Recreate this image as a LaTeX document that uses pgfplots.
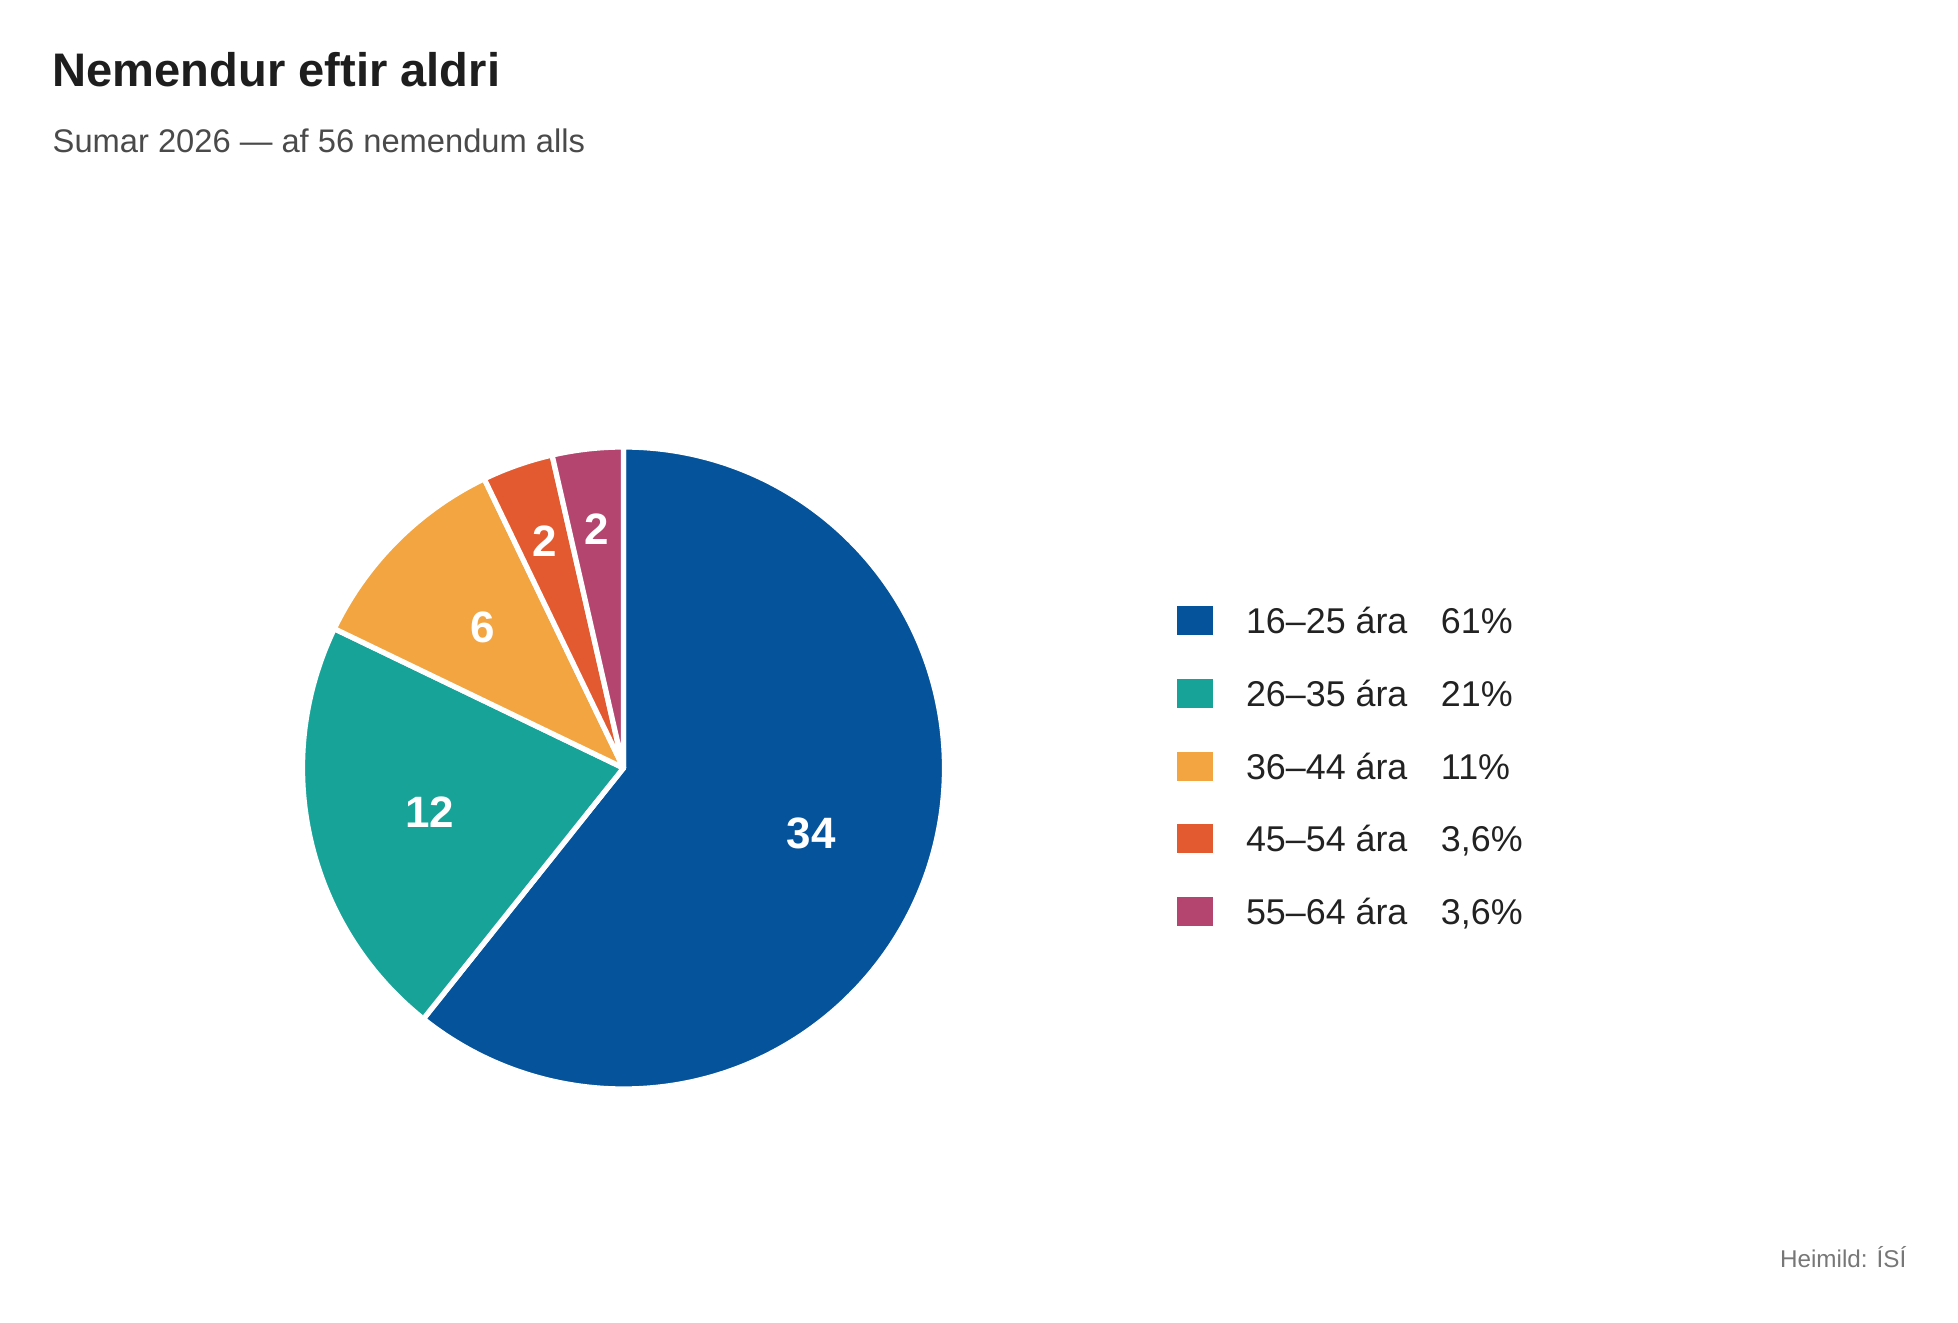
\documentclass[border=0pt]{standalone}
\usepackage{pgfplots}
\pgfplotsset{compat=1.18}
\usepackage{pgfplotstable}
\usepackage{fontspec}
\setmainfont{Liberation Sans}

\definecolor{c1}{HTML}{04539B}
\definecolor{c2}{HTML}{18A398}
\definecolor{c3}{HTML}{F2A541}
\definecolor{c4}{HTML}{E35A30}
\definecolor{c5}{HTML}{B3456E}
\definecolor{titlecol}{HTML}{1E1E1E}
\definecolor{subcol}{HTML}{4A4A4A}
\definecolor{textcol}{HTML}{222222}
\definecolor{notecol}{HTML}{777777}

% students per age group
\pgfplotstableread{
group value colour
16-25 34 c1
26-35 12 c2
36-44 6 c3
45-54 2 c4
55-64 2 c5
}\agedata

\tikzset{slicelabel/.style={text=white, inner sep=0pt,
    font=\bfseries\fontsize{12.5}{14}\selectfont}}

\begin{document}
\begin{tikzpicture}
\begin{axis}[
    scale only axis,
    width=19.58cm, height=13.22cm,
    xmin=0, xmax=1958, ymin=0, ymax=1322,
    hide axis, clip=false,
    legend style={
        at={(axis cs:1177,715.5)}, anchor=north west,
        draw=none, fill=none, inner sep=0pt, outer sep=0pt,
        row sep=0.435cm,
        font=\fontsize{10.2}{12}\selectfont,
        text=textcol,
        nodes={inner sep=0pt, text height=0.26cm, text depth=0cm},
        /tikz/every odd column/.append style={column sep=0.33cm},
    },
    legend cell align=left,
    legend image code/.code={\fill (0cm,-0.145cm) rectangle (0.36cm,0.145cm);},
]
\path (axis cs:0,0) rectangle (axis cs:1958,1322);

\def\cx{623.5}
\def\cy{554}
\def\R{3.21cm}
\pgfplotstablegetrowsof{\agedata}
\pgfmathtruncatemacro\nrows{\pgfplotsretval-1}
\def\total{0}
\pgfplotsforeachungrouped \i in {0,...,\nrows}{%
    \pgfplotstablegetelem{\i}{value}\of\agedata
    \pgfmathsetmacro\total{\total+\pgfplotsretval}}
\def\angA{90}
\pgfplotsforeachungrouped \i in {0,...,\nrows}{%
    \pgfplotstablegetelem{\i}{value}\of\agedata \let\val\pgfplotsretval
    \pgfplotstablegetelem{\i}{colour}\of\agedata \let\col\pgfplotsretval
    \pgfmathsetmacro\sweep{360*\val/\total}
    \pgfmathsetmacro\angB{\angA-\sweep}
    \pgfmathsetmacro\angM{(\angA+\angB)/2}
    \pgfmathsetmacro\lr{\sweep<20 ? 2.40 : 1.99}
    \edef\wedge{%
        \noexpand\fill[\col, draw=white, line width=1.5pt, line join=round]
            (axis cs:\cx,\cy) -- ++(\angA:\R)
            arc[start angle=\angA, end angle=\angB, radius=\R] -- cycle;
        \noexpand\path (axis cs:\cx,\cy) ++(\angM:\lr cm)
            node[slicelabel] {\val};}
    \wedge
    \let\angA\angB
}

\addlegendimage{fill=c1, draw=none}
\addlegendentry{\makebox[1.95cm][l]{16–25 ára}61\%}
\addlegendimage{fill=c2, draw=none}
\addlegendentry{\makebox[1.95cm][l]{26–35 ára}21\%}
\addlegendimage{fill=c3, draw=none}
\addlegendentry{\makebox[1.95cm][l]{36–44 ára}11\%}
\addlegendimage{fill=c4, draw=none}
\addlegendentry{\makebox[1.95cm][l]{45–54 ára}3,6\%}
\addlegendimage{fill=c5, draw=none}
\addlegendentry{\makebox[1.95cm][l]{55–64 ára}3,6\%}

\node[anchor=base west, inner sep=0pt, text=titlecol,
    font=\bfseries\fontsize{13.4}{16}\selectfont] at (axis cs:52,1235) {Nemendur eftir aldri};
\node[anchor=base west, inner sep=0pt, text=subcol,
    font=\fontsize{9.3}{11}\selectfont] at (axis cs:52,1169) {Sumar 2026 — af 56 nemendum alls};
\node[anchor=base east, inner sep=0pt, text=notecol,
    font=\fontsize{6.9}{8}\selectfont] at (axis cs:1907,55) {Heimild: ÍSÍ};
\end{axis}
\end{tikzpicture}
\end{document}
